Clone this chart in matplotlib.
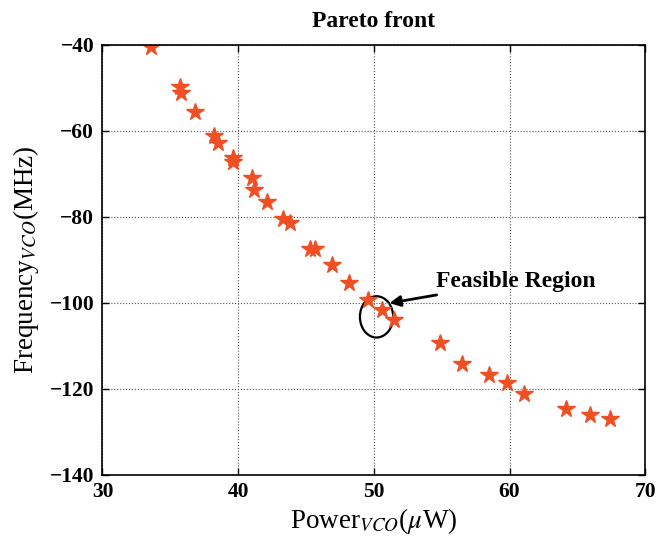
import matplotlib
matplotlib.use("Agg")
import matplotlib.pyplot as plt
from matplotlib.patches import Ellipse

# Pareto front points
power = [33.6, 35.7, 35.8, 36.8, 38.2, 38.5, 39.6, 39.6, 41.0, 41.2,
         42.1, 43.3, 43.8, 45.3, 45.7, 46.9, 48.2, 49.6, 50.6, 51.5,
         54.9, 56.5, 58.5, 59.8, 61.1, 64.2, 65.9, 67.4]
freq = [-40.6, -49.9, -51.3, -55.6, -61.2, -62.9, -66.4, -67.3, -71.1, -73.8,
        -76.5, -80.6, -81.4, -87.4, -87.4, -91.2, -95.5, -99.4, -101.7, -104.0,
        -109.4, -114.3, -116.8, -118.7, -121.2, -124.8, -126.1, -127.0]

x_ticks = [30, 40, 50, 60, 70]
y_ticks = [-140, -120, -100, -80, -60, -40]

plt.rcParams['font.family'] = ['Liberation Serif', 'DejaVu Serif']
plt.rcParams['mathtext.fontset'] = 'stix'

fig = plt.figure(figsize=(6.57, 5.41), dpi=100)
ax = fig.add_axes([0.156, 0.1226, 0.826, 0.7948])

ax.plot(power, freq, linestyle='none', marker='*', markersize=13,
        color='#F04E23', markeredgecolor='#F04E23')

# feasible region marker
ell = Ellipse((50.2, -103.3), 2.45, 9.6, fill=False, edgecolor='black', linewidth=1.6)
ax.add_patch(ell)
ax.annotate('Feasible Region', xy=(51.15, -100.1), xytext=(54.6, -95.0),
            fontsize=17, fontweight='bold', va='center', ha='left',
            arrowprops=dict(arrowstyle='-|>', color='black', lw=2.0,
                            mutation_scale=16, shrinkA=2, shrinkB=0))

ax.set_xlim(30, 70)
ax.set_ylim(-140, -40)
ax.set_xticks(x_ticks)
ax.set_yticks(y_ticks)
ax.set_xticklabels([str(t) for t in x_ticks], fontsize=15.5, fontweight='bold')
ax.set_yticklabels(['\u2212' + str(-t) for t in y_ticks], fontsize=15.5, fontweight='bold')
ax.tick_params(direction='in', top=True, right=True, length=5, width=1)
ax.tick_params(axis='x', pad=5)
ax.tick_params(axis='y', pad=6)

ax.grid(True, linestyle=':', color='#555555', linewidth=0.8)
for s in ax.spines.values():
    s.set_linewidth(1.2)

ax.set_title('Pareto front', fontsize=17, fontweight='bold', pad=13)
ax.set_xlabel(r'Power$_{VCO}$($\mu$W)', fontsize=19.5, labelpad=3)
ax.set_ylabel(r'Frequency$_{VCO}$(MHz)', fontsize=19.5, labelpad=6)

fig.savefig('out.png', dpi=100)
